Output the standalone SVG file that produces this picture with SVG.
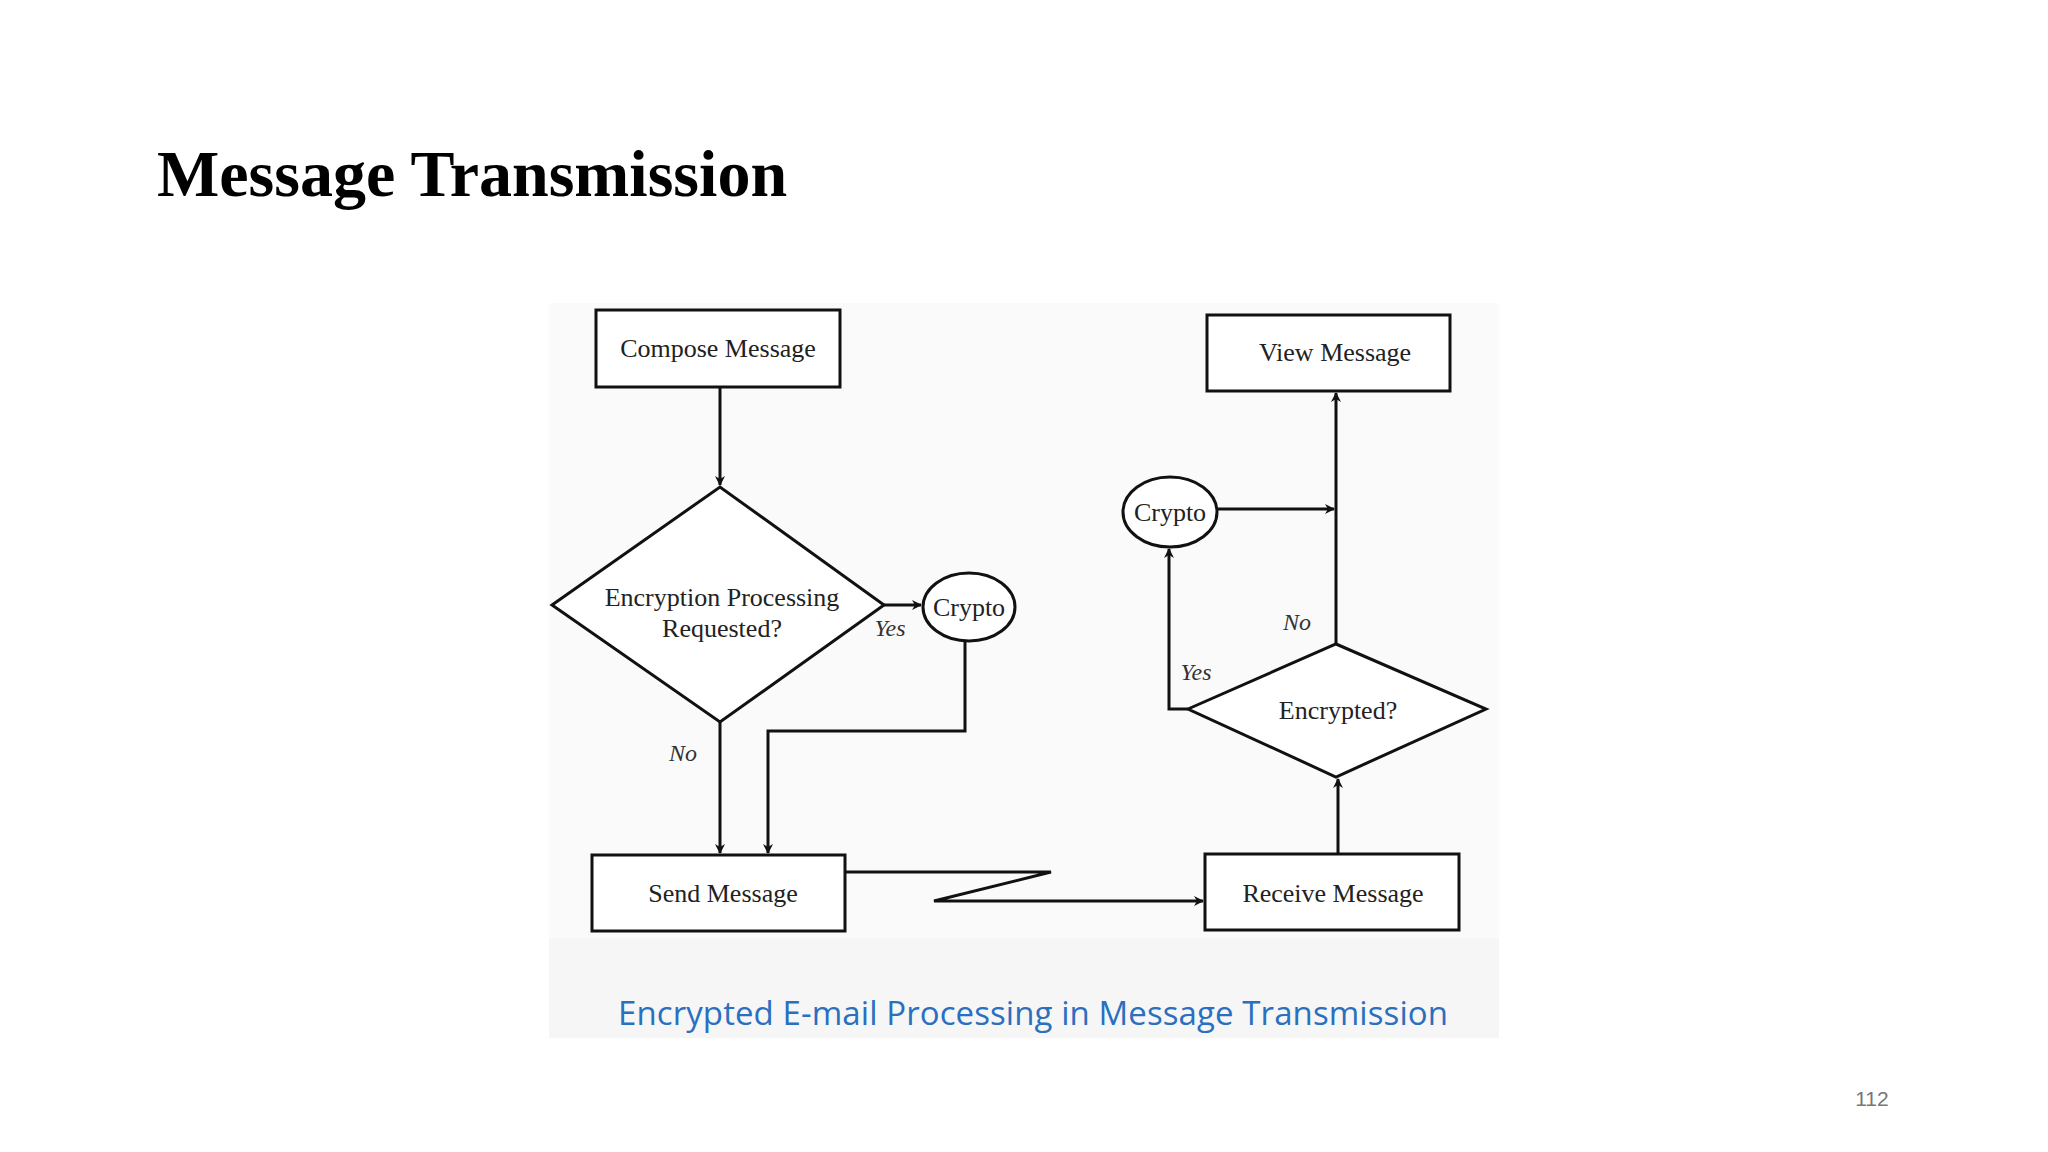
<svg xmlns="http://www.w3.org/2000/svg" width="2048" height="1152" viewBox="0 0 2048 1152">
<style>
.n{fill:#fff;stroke:#111;stroke-width:3}
.t{font-family:"Liberation Serif",serif;font-size:26px;fill:#222;text-anchor:middle}
.l{font-family:"Liberation Serif",serif;font-size:24px;font-style:italic;fill:#333;text-anchor:middle}
.c{fill:none;stroke:#111;stroke-width:3}
</style>
<defs><marker id="a" markerWidth="10" markerHeight="10" refX="9" refY="5" orient="auto" markerUnits="userSpaceOnUse" viewBox="0 0 10 10"><path d="M0,0 L10,5 L0,10 L3,5 Z" fill="#111"/></marker></defs>
<rect width="2048" height="1152" fill="#fff"/>
<rect x="549" y="303" width="950" height="635" fill="#fafafa"/>
<rect x="549" y="938" width="950" height="100" fill="#f6f6f6"/>
<text x="157" y="196" font-family="Liberation Serif,serif" font-weight="bold" font-size="66">Message Transmission</text>
<g id="connectors" class="c">
<path d="M720,387 V485" marker-end="url(#a)"/>
<path d="M884,605 H921" marker-end="url(#a)"/>
<path d="M965,641 V731 H768 V853" marker-end="url(#a)"/>
<path d="M720,722 V853" marker-end="url(#a)"/>
<path d="M845,872 H1051 L934,901 H1203" marker-end="url(#a)"/>
<path d="M1338,854 V779" marker-end="url(#a)"/>
<path d="M1336,644 V393" marker-end="url(#a)"/>
<path d="M1188,709 H1169 V549" marker-end="url(#a)"/>
<path d="M1217,509 H1334" marker-end="url(#a)"/>
</g>
<g id="compose"><rect class="n" x="596" y="310" width="244" height="77"/><text class="t" x="718" y="357">Compose Message</text></g>
<g id="view"><rect class="n" x="1207" y="315" width="243" height="76"/><text class="t" x="1335" y="361">View Message</text></g>
<g id="decision1"><path class="n" d="M552,605 L720,487 L884,605 L720,722 Z"/><text class="t" x="722" y="606">Encryption Processing</text><text class="t" x="722" y="637">Requested?</text></g>
<g id="crypto1"><ellipse class="n" cx="969" cy="607" rx="46" ry="34"/><text class="t" x="969" y="616">Crypto</text></g>
<g id="send"><rect class="n" x="592" y="855" width="253" height="76"/><text class="t" x="723" y="902">Send Message</text></g>
<g id="receive"><rect class="n" x="1205" y="854" width="254" height="76"/><text class="t" x="1333" y="902">Receive Message</text></g>
<g id="decision2"><path class="n" d="M1188,709 L1336,644 L1486,709 L1336,777 Z"/><text class="t" x="1338" y="719">Encrypted?</text></g>
<g id="crypto2"><ellipse class="n" cx="1170" cy="512" rx="47" ry="35"/><text class="t" x="1170" y="521">Crypto</text></g>
<g id="labels">
<text class="l" x="890" y="636">Yes</text>
<text class="l" x="683" y="761">No</text>
<text class="l" x="1297" y="630">No</text>
<text class="l" x="1196" y="680">Yes</text>
</g>
<text x="618" y="1025" font-family="Open Sans,sans-serif" font-size="33" fill="#2a6fc0" textLength="830">Encrypted E-mail Processing in Message Transmission</text>
<text x="1872" y="1106" font-family="Liberation Sans,sans-serif" font-size="21" fill="#777" text-anchor="middle">112</text>
</svg>
